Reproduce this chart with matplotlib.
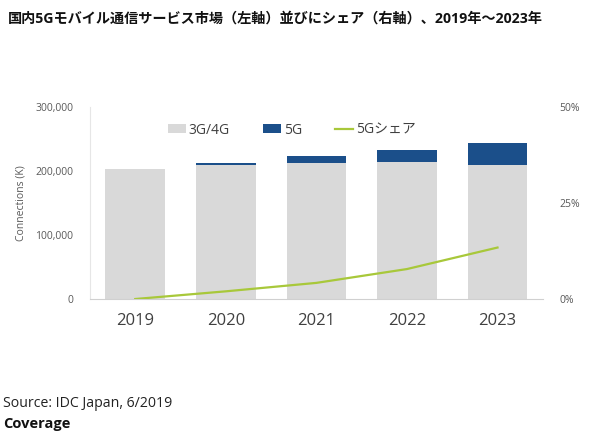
import matplotlib.pyplot as plt
import numpy as np

plt.rcParams['font.family'] = ['Open Sans', 'Noto Sans CJK JP', 'DejaVu Sans']

years = ['2019', '2020', '2021', '2022', '2023']
conn_3g4g = [203000, 209000, 213000, 214000, 210000]
conn_5g = [0, 4000, 10000, 18000, 34000]
share_5g = [0.0, 2.0, 4.2, 7.8, 13.4]

grayBar = '#d9d9d9'
blueBar = '#1b4f8a'
lineCol = '#a8c83a'
tickCol = '#595959'

fig = plt.figure(figsize=(5.9, 4.42), dpi=100)
ax = fig.add_axes([0.1525, 0.3235, 0.7675, 0.4345])
x = np.arange(len(years))

b1 = ax.bar(x, conn_3g4g, width=0.66, color=grayBar, label='3G/4G')
b2 = ax.bar(x, conn_5g, width=0.66, bottom=conn_3g4g, color=blueBar, label='5G')
ax.set_xlim(-0.5, 4.5)
ax.set_ylim(0, 300000)
ax.set_yticks([0, 100000, 200000, 300000])
ax.set_yticklabels(['0', '100,000', '200,000', '300,000'])
ax.set_xticks(x)
ax.set_xticklabels(years)
ax.tick_params(axis='y', length=0, labelsize=7.5, colors=tickCol, pad=12)
ax.tick_params(axis='x', length=0, labelsize=12, colors='#404040', pad=10)
ax.set_ylabel('Connections (K)', fontsize=7.5, color=tickCol, labelpad=6)

for s in ['top', 'right']:
	ax.spines[s].set_visible(False)
ax.spines['left'].set_color('#e6e6e6')
ax.spines['bottom'].set_color('#d0d0d0')

#Share on the right axis
ax2 = ax.twinx()
l1, = ax2.plot(x, share_5g, color=lineCol, linewidth=1.6, label='5Gシェア')
ax2.set_ylim(0, 50)
ax2.set_yticks([0, 25, 50])
ax2.set_yticklabels(['0%', '25%', '50%'])
ax2.tick_params(axis='y', length=0, labelsize=7.5, colors=tickCol, pad=12)
for s in ['top', 'right', 'left', 'bottom']:
	ax2.spines[s].set_visible(False)

ax2.legend(handles=[b1, b2, l1], loc='center', bbox_to_anchor=(0.446, 0.88), ncol=3,
	frameon=False, fontsize=10, handlelength=1.3, handleheight=0.6, handletextpad=0.2,
	columnspacing=2.4, labelcolor='#404040')

fig.text(0.014, 0.958, '国内5Gモバイル通信サービス市場（左軸）並びにシェア（右軸）、2019年～2023年',
	fontsize=10.2, fontweight='bold', color='#111111', va='center')
fig.text(0.005, 0.088, 'Source: IDC Japan, 6/2019', fontsize=10.2, color='#222222', va='center')
fig.text(0.005, 0.04, 'Coverage', fontsize=10.5, fontweight='bold', color='#111111', va='center')

fig.savefig('out.png', dpi=100)
